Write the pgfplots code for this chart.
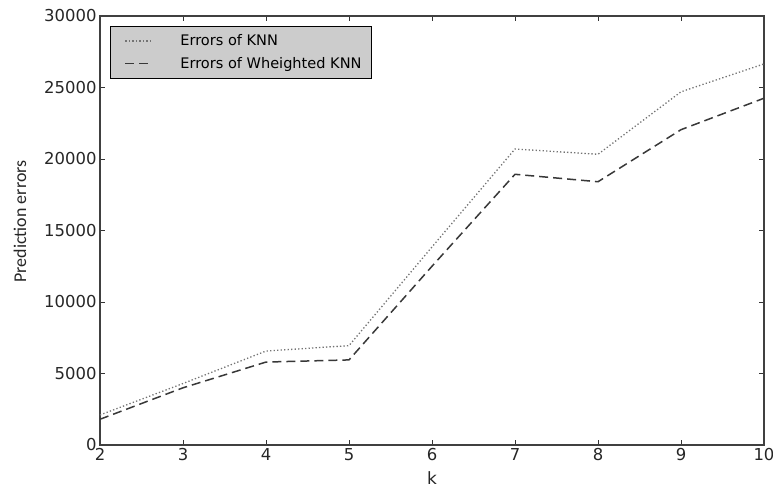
\documentclass[border=0pt]{standalone}
\usepackage{pgfplots}
\pgfplotsset{compat=1.18}
\usepackage{fontspec}
\setmainfont{DejaVu Sans}
\newfontfamily\calibri{Carlito}
\begin{document}
\begin{tikzpicture}
\begin{axis}[
  scale only axis, width=664bp, height=429bp,
  xmin=2, xmax=10, ymin=0, ymax=30000,
  xtick={2,3,...,10}, ytick={0,5000,...,30000},
  scaled y ticks=false,
  /pgf/number format/assume math mode=true,
  /pgf/number format/1000 sep={},
  tick align=inside, xtick pos=both, ytick pos=both,
  major tick length=5bp,
  tick style={line width=0.8bp, color=black!80},
  axis line style={line width=1.3bp, color=black!75},
  ticklabel style={font=\fontsize{16.5}{16.5}\selectfont, color=black!85},
  xlabel={k}, ylabel={Prediction errors},
  xlabel style={font=\fontsize{17}{17}\selectfont, color=black!85,
    at={(axis description cs:0.5,-0.077)}, anchor=center},
  ylabel style={font=\calibri\fontsize{18}{18}\selectfont, color=black!85,
    at={(axis description cs:-0.1205,0.521)}, anchor=center},
  legend style={at={(0.015,0.977)}, anchor=north west, fill=black!20, draw=black,
    line width=0.8bp, font=\fontsize{14.6}{15}\selectfont, inner xsep=5bp, inner ysep=5.5bp,
    row sep=4bp, nodes={inner xsep=5bp, inner ysep=3bp}},
  legend cell align=left,
  legend image code/.code={\path[draw=none] (-10bp,0bp) rectangle (50bp,0bp); \draw[#1] (0bp,0bp) -- (27bp,0bp);},
]
\addplot[black!55, line width=1.3bp, dash pattern=on 1.3bp off 2.2bp] coordinates {
  (2,2100)(3,4300)(4,6570)(5,6950)(6,13850)(7,20700)(8,20330)(9,24700)(10,26650)};
\addlegendentry{Errors of KNN}
\addplot[black!78, line width=1.5bp, dash pattern=on 9bp off 5bp] coordinates {
  (2,1800)(3,4000)(4,5800)(5,5950)(6,12500)(7,18930)(8,18410)(9,22050)(10,24250)};
\addlegendentry{Errors of Wheighted KNN}
\end{axis}
\pgfresetboundingbox
\path (current axis.south west) ++(-100bp,-44bp) rectangle ++(773bp,489bp);
\end{tikzpicture}
\end{document}
